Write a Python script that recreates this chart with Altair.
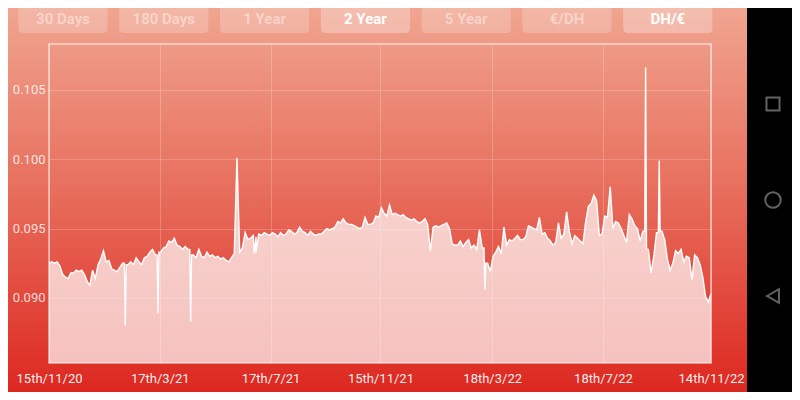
import altair as alt
import pandas as pd

# ---------------- data ----------------
start_date = "2020-11-15"
step_days = 3
rate_values = [
    0.0925, 0.0926, 0.0925, 0.0926, 0.0923, 0.0917, 0.0915, 0.0914, 0.0918, 0.0918,
    0.0920, 0.0919, 0.0920, 0.0917, 0.0912, 0.0909, 0.0920, 0.0914, 0.0924, 0.0928,
    0.0934, 0.0926, 0.0927, 0.0921, 0.0920, 0.0919, 0.0922, 0.0925, 0.0880, 0.0924,
    0.0926, 0.0924, 0.0929, 0.0926, 0.0924, 0.0929, 0.0930, 0.0933, 0.0935, 0.0931,
    0.0889, 0.0933, 0.0936, 0.0937, 0.0941, 0.0940, 0.0943, 0.0938, 0.0937, 0.0935,
    0.0937, 0.0935, 0.0883, 0.0931, 0.0929, 0.0935, 0.0930, 0.0929, 0.0933, 0.0930,
    0.0931, 0.0929, 0.0930, 0.0928, 0.0929, 0.0927, 0.0926, 0.0929, 0.0932, 0.1001,
    0.0933, 0.0936, 0.0947, 0.0942, 0.0943, 0.0945, 0.0944, 0.0946, 0.0945, 0.0947,
    0.0946, 0.0945, 0.0947, 0.0946, 0.0944, 0.0947, 0.0945, 0.0946, 0.0949, 0.0948,
    0.0946, 0.0947, 0.0951, 0.0948, 0.0947, 0.0945, 0.0948, 0.0946, 0.0945, 0.0946,
    0.0946, 0.0948, 0.0950, 0.0949, 0.0950, 0.0951, 0.0955, 0.0954, 0.0957, 0.0954,
    0.0953, 0.0953, 0.0952, 0.0951, 0.0950, 0.0951, 0.0958, 0.0953, 0.0953, 0.0954,
    0.0959, 0.0958, 0.0965, 0.0961, 0.0959, 0.0967, 0.0960, 0.0961, 0.0960, 0.0959,
    0.0960, 0.0958, 0.0957, 0.0956, 0.0957, 0.0955, 0.0954, 0.0955, 0.0957, 0.0953,
    0.0934, 0.0951, 0.0952, 0.0951, 0.0952, 0.0953, 0.0954, 0.0950, 0.0939, 0.0938,
    0.0938, 0.0941, 0.0937, 0.0940, 0.0942, 0.0936, 0.0938, 0.0935, 0.0949, 0.0936,
    0.0906, 0.0925, 0.0919, 0.0930, 0.0933, 0.0937, 0.0932, 0.0951, 0.0938, 0.0942,
    0.0941, 0.0943, 0.0945, 0.0942, 0.0942, 0.0944, 0.0952, 0.0951, 0.0950, 0.0949,
    0.0958, 0.0946, 0.0947, 0.0943, 0.0941, 0.0938, 0.0940, 0.0954, 0.0943, 0.0946,
    0.0962, 0.0948, 0.0939, 0.0945, 0.0943, 0.0941, 0.0939, 0.0955, 0.0966, 0.0968,
    0.0974, 0.0970, 0.0945, 0.0946, 0.0959, 0.0958, 0.0980, 0.0950, 0.0955, 0.0954,
    0.0950, 0.0945, 0.0940, 0.0960, 0.0957, 0.0952, 0.0950, 0.0941, 0.0948, 0.1066,
    0.0935, 0.0918, 0.0930, 0.0947, 0.0999, 0.0948, 0.0942, 0.0928, 0.0920, 0.0925,
    0.0934, 0.0932, 0.0935, 0.0926, 0.0930, 0.0929, 0.0913, 0.0931, 0.0929, 0.0924,
    0.0915, 0.0901, 0.0897, 0.0903,
]
# extra daily readings right next to the one-day spikes
extra_dates = [
    "2021-02-06", "2021-02-08", "2021-03-14", "2021-03-16", "2021-04-19", "2021-04-21",
    "2021-06-29", "2021-07-01", "2022-03-09", "2022-03-11", "2022-09-02", "2022-09-04",
    "2022-09-17", "2022-09-19",
]
extra_values = [
    0.0925, 0.0924, 0.0931, 0.0933, 0.0935, 0.0931,
    0.0932, 0.0933, 0.0936, 0.0925, 0.0948, 0.0935,
    0.0947, 0.0948,
]
tick_dates = ["2020-11-15", "2021-03-17", "2021-07-17", "2021-11-15",
              "2022-03-18", "2022-07-18", "2022-11-14"]
y_ticks = [0.090, 0.095, 0.100, 0.105]
y_domain = [0.08532, 0.10828]
buttons = ["30 Days", "180 Days", "1 Year", "2 Year", "5 Year", "€/DH", "DH/€"]
button_selected = [False, False, False, True, False, False, True]

dates = pd.date_range(start_date, periods=len(rate_values),
                      freq=f"{step_days}D").strftime("%Y-%m-%d")
df = pd.concat([
    pd.DataFrame({"date": dates, "rate": rate_values}),
    pd.DataFrame({"date": extra_dates, "rate": extra_values}),
]).sort_values("date").reset_index(drop=True)
btn_df = pd.DataFrame({"label": buttons, "i": list(range(len(buttons))),
                       "sel": button_selected})
one = pd.DataFrame({"k": [0]})

# ---------------- layout ----------------
W, H = 662, 319
PAD = {"left": 41, "top": 36, "right": 81, "bottom": 29}
FONT = "Roboto"


def dt(s):
    y, m, d = map(int, s.split("-"))
    return alt.DateTime(year=y, month=m, date=d, utc=True)


bg = alt.Chart(one).mark_rect(
    fill=alt.Gradient(
        gradient="linear", x1=0, y1=0, x2=0, y2=1,
        stops=[alt.GradientStop(offset=0, color="#F0A590"),
               alt.GradientStop(offset=0.45, color="#E8715F"),
               alt.GradientStop(offset=1, color="#DD2820")]),
).encode(x=alt.value(-41), x2=alt.value(698), y=alt.value(-36), y2=alt.value(348))

x_enc = alt.X(
    "date:T",
    scale=alt.Scale(domain=[dt(tick_dates[0]), dt(tick_dates[-1])]),
    axis=alt.Axis(
        values=[dt(s) for s in tick_dates],
        labelExpr="utcdate(datum.value) + 'th/' + (utcmonth(datum.value) + 1) + '/' + utcFormat(datum.value, '%y')",
        title=None, grid=True, gridColor="#FFFFFF", gridOpacity=0.22, gridWidth=1,
        domain=False, ticks=False, labelPadding=9, labelFontSize=13, labelFont=FONT,
        labelColor="#FFFFFF", labelOpacity=0.95, labelFlush=False, labelOverlap=False,
        zindex=1,
    ),
)
y_enc = alt.Y(
    "rate:Q",
    stack=None,
    scale=alt.Scale(domain=y_domain, zero=False, nice=False),
    axis=alt.Axis(
        values=y_ticks, format=".3f", title=None, grid=True, gridColor="#FFFFFF",
        gridOpacity=0.2, gridWidth=1, domain=False, ticks=False, labelPadding=4,
        labelFontSize=13, labelFont=FONT, labelColor="#FFFFFF", labelOpacity=0.82,
        zindex=1,
    ),
)

area = alt.Chart(df).mark_area(color="#FFFFFF", opacity=0.7, interpolate="linear").encode(
    x=x_enc, y=y_enc, y2=alt.value(H))
line = alt.Chart(df).mark_line(color="#FFFFFF", strokeWidth=1.4, interpolate="linear").encode(
    x="date:T", y=alt.Y("rate:Q", stack=None))

border = alt.Chart(one).mark_rect(filled=False, stroke="#FFFFFF", strokeOpacity=0.6,
                                  strokeWidth=1.6).encode(
    x=alt.value(0), x2=alt.value(W), y=alt.value(0), y2=alt.value(H))

bx = alt.Scale(domain=[0, 6], range=[14, 618.8])
btn_rect = alt.Chart(btn_df).transform_calculate(
    lo="datum.i - 0.4425", hi="datum.i + 0.4425"
).mark_rect(cornerRadius=4, color="#FFFFFF").encode(
    x=alt.X("lo:Q", scale=bx, axis=None), x2="hi:Q",
    y=alt.value(-40), y2=alt.value(-11),
    fillOpacity=alt.condition("datum.sel", alt.value(0.28), alt.value(0.2)),
)
btn_text = alt.Chart(btn_df).mark_text(
    font=FONT, fontSize=15, fontWeight="bold", color="#FFFFFF", baseline="middle",
    align="center",
).encode(
    x=alt.X("i:Q", scale=bx, axis=None), y=alt.value(-25), text="label:N",
    opacity=alt.condition("datum.sel", alt.value(1.0), alt.value(0.42)),
)

icon_sq = alt.Chart(one).mark_point(shape="square", size=170, filled=False,
                                    color="#8C8C8C", strokeWidth=2).encode(
    x=alt.value(724), y=alt.value(60))
icon_ci = alt.Chart(one).mark_point(shape="circle", size=240, filled=False,
                                    color="#8C8C8C", strokeWidth=2).encode(
    x=alt.value(724), y=alt.value(156))
icon_tr = alt.Chart(one).mark_point(shape="triangle-left", size=190, filled=False,
                                    color="#8C8C8C", strokeWidth=2).encode(
    x=alt.value(724), y=alt.value(252))

chart = alt.layer(
    bg, area, line, border, btn_rect, btn_text, icon_sq, icon_ci, icon_tr
).resolve_scale(x="independent").properties(
    width=W, height=H, padding=PAD,
    autosize=alt.AutoSizeParams(type="none"),
    background="#000000",
).configure_view(stroke=None)

chart.save("out.html", embed_options={"renderer": "svg", "actions": False})
